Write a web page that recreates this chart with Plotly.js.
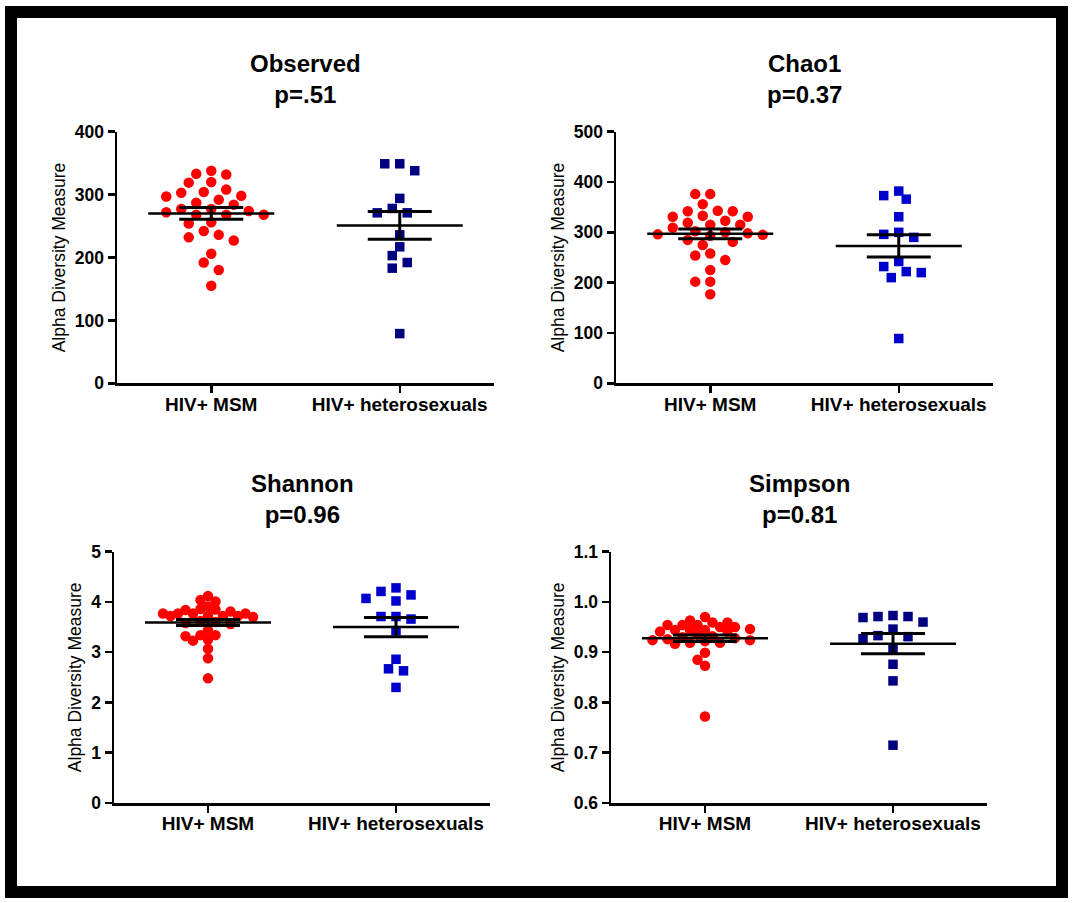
<!DOCTYPE html>
<html>
<head>
<meta charset="utf-8">
<script src="https://cdn.plot.ly/plotly-3.0.1.min.js"></script>
<style>
html,body{margin:0;padding:0;background:#fff;}
#chart{width:1072px;height:903px;}
</style>
</head>
<body>
<div id="chart"></div>
<script>
// ---------------- DATA ----------------
const categories = ['HIV+ MSM', 'HIV+ heterosexuals'];
const panelTitles = ['Observed', 'Chao1', 'Shannon', 'Simpson'];
const pValues = ['p=.51', 'p=0.37', 'p=0.96', 'p=0.81'];
const yAxisTitle = 'Alpha Diversity Measure';

const observedMSM = [338, 333, 332, 320, 319, 303, 308, 304, 297, 298, 292, 287, 284, 277, 277, 268, 268, 254, 256, 242, 227, 236, 232, 206, 192, 180, 155, 268, 272, 274];
const observedHetero = [349, 349, 338, 294, 278, 271, 271, 236, 217, 203, 192, 183, 79];
const observedMean = [270, 251];
const observedSEM = [9.3, 22];

const chao1MSM = [376, 376, 356, 342, 342, 343, 333, 331, 331, 323, 319, 315, 315, 309, 296, 295, 285, 281, 275, 258, 254, 245, 225, 202, 202, 177, 300, 298, 302, 293];
const chao1Hetero = [382, 373, 366, 331, 300, 296, 290, 242, 232, 222, 220, 210, 89];
const chao1Mean = [297, 273];
const chao1SEM = [9.5, 22];

const shannonMSM = [4.12, 4.04, 4.01, 3.91, 3.85, 3.86, 3.81, 3.84, 3.72, 3.77, 3.77, 3.77, 3.77, 3.72, 3.72, 3.72, 3.70, 3.44, 3.34, 3.32, 3.34, 3.23, 3.25, 3.07, 2.88, 2.48, 3.62, 3.58, 3.60, 3.56];
const shannonHetero = [4.28, 4.21, 4.14, 4.07, 4.02, 3.71, 3.71, 3.66, 3.43, 2.86, 2.67, 2.63, 2.30];
const shannonMean = [3.59, 3.50];
const shannonSEM = [0.06, 0.19];

const simpsonMSM = [0.970, 0.959, 0.963, 0.959, 0.954, 0.954, 0.954, 0.946, 0.944, 0.950, 0.950, 0.944, 0.944, 0.941, 0.941, 0.924, 0.919, 0.917, 0.919, 0.922, 0.924, 0.899, 0.885, 0.873, 0.772, 0.932, 0.928, 0.930, 0.935, 0.926];
const simpsonHetero = [0.971, 0.969, 0.973, 0.971, 0.960, 0.946, 0.933, 0.927, 0.931, 0.908, 0.876, 0.843, 0.715];
const simpsonMean = [0.928, 0.917];
const simpsonSEM = [0.0065, 0.020];

const yRanges = [[0, 400], [0, 500], [0, 5], [0.6, 1.1]];
const yDticks = [100, 100, 1, 0.1];

// ---------------- LAYOUT GEOMETRY (pixels) ----------------
const W = 1072, H = 903;
const FONT = 'Liberation Sans, Arial, sans-serif';
// plot boxes: [left, right, top, bottom] in px
const boxes = [
  [117, 494, 131.7, 383.3],
  [616, 993, 131.7, 383.3],
  [114, 490, 551.7, 803],
  [611, 987, 551.7, 803]
];
const heteroBlue = ['#000080', '#0000cc', '#0000cc', '#000080'];
const swarmGap = [11, 11, 7.8, 8.6];   // min px distance between point centres per panel

const panels = [
  [observedMSM, observedHetero, observedMean, observedSEM],
  [chao1MSM, chao1Hetero, chao1Mean, chao1SEM],
  [shannonMSM, shannonHetero, shannonMean, shannonSEM],
  [simpsonMSM, simpsonHetero, simpsonMean, simpsonSEM]
];

// simple beeswarm: horizontal offsets on a 7.5 px grid, avoiding close overlap
function swarm(vals, center, yr, plotH, pxPerUnitX, minDist) {
  const step = 7.5;
  const scale = plotH / (yr[1] - yr[0]);
  const order = vals.map((v, i) => i).sort((a, b) => vals[b] - vals[a]);
  const placed = [];
  const xs = new Array(vals.length);
  for (const idx of order) {
    const y = vals[idx] * scale;
    for (let j = 0; j < 80; j++) {
      const k = j === 0 ? 0 : (j % 2 ? -(j + 1) / 2 : j / 2);
      const x = k * step;
      if (!placed.some(p => Math.hypot(p.x - x, p.y - y) < minDist)) {
        placed.push({x, y});
        xs[idx] = center + x / pxPerUnitX;
        break;
      }
    }
  }
  return xs;
}

const traces = [];
const layout = {
  width: W, height: H,
  margin: {l: 0, r: 0, t: 0, b: 0},
  paper_bgcolor: '#fff', plot_bgcolor: '#fff',
  showlegend: false, hovermode: false,
  annotations: [], shapes: []
};

panels.forEach((p, i) => {
  const [msm, het, means, sems] = p;
  const b = boxes[i];
  const n = i === 0 ? '' : String(i + 1);
  const xa = 'x' + n, ya = 'y' + n;
  const plotW = b[1] - b[0], plotH = b[3] - b[2];
  const pxPerUnitX = plotW / 2;
  const yr = yRanges[i];

  traces.push({
    type: 'scatter', mode: 'markers', xaxis: xa, yaxis: ya,
    x: swarm(msm, 0, yr, plotH, pxPerUnitX, swarmGap[i]), y: msm,
    marker: {symbol: 'circle', size: 10.5, color: '#ff0000'},
    cliponaxis: false
  });
  traces.push({
    type: 'scatter', mode: 'markers', xaxis: xa, yaxis: ya,
    x: swarm(het, 1, yr, plotH, pxPerUnitX, 11), y: het,
    marker: {symbol: 'square', size: 9.5, color: heteroBlue[i]},
    cliponaxis: false
  });
  // mean lines
  const halfMean = 63 / pxPerUnitX;
  [0, 1].forEach(c => {
    traces.push({
      type: 'scatter', mode: 'lines', xaxis: xa, yaxis: ya,
      x: [c - halfMean, c + halfMean], y: [means[c], means[c]],
      line: {color: '#000', width: 2.5}
    });
  });
  // SEM error bars
  traces.push({
    type: 'scatter', mode: 'markers', xaxis: xa, yaxis: ya,
    x: [0, 1], y: means,
    marker: {size: 1, color: 'rgba(0,0,0,0)'},
    error_y: {type: 'data', array: sems, visible: true, color: '#000', thickness: 3, width: 32}
  });

  layout['xaxis' + n] = {
    domain: [b[0] / W, b[1] / W], anchor: ya,
    range: [-0.5, 1.5], tickvals: [0, 1], ticktext: categories,
    showgrid: false, zeroline: false, showline: true, linecolor: '#000', linewidth: 2.5,
    ticks: 'outside', ticklen: 7, tickwidth: 2.5, tickcolor: '#000',
    ticklabelstandoff: -5,
    tickfont: {family: FONT, size: 19, color: '#000', weight: 'bold'},
    fixedrange: true
  };
  layout['yaxis' + n] = {
    domain: [1 - b[3] / H, 1 - b[2] / H], anchor: xa,
    range: yr, dtick: yDticks[i], tick0: yr[0],
    tickformat: i === 3 ? '.1f' : 'd',
    showgrid: false, zeroline: false, showline: true, linecolor: '#000', linewidth: 2.5,
    ticks: 'outside', ticklen: 7, tickwidth: 2.5, tickcolor: '#000',
    tickfont: {family: FONT, size: 17.5, color: '#000', weight: 'bold'},
    title: {text: yAxisTitle, font: {family: FONT, size: 17.5, color: '#000'}, standoff: 5},
    fixedrange: true
  };
  layout.annotations.push({
    xref: 'paper', yref: 'paper',
    x: (b[0] + b[1]) / 2 / W, y: 1 - (b[2] - 22) / H,
    xanchor: 'center', yanchor: 'bottom', showarrow: false,
    text: '<b>' + panelTitles[i] + '</b><br><b>' + pValues[i] + '</b>',
    font: {family: FONT, size: 24, color: '#000'}
  });
});

// outer frame
layout.shapes.push({
  type: 'rect', xref: 'paper', yref: 'paper',
  x0: 11 / W, x1: 1062 / W, y0: 1 - 892 / H, y1: 1 - 12 / H,
  line: {color: '#000', width: 12}, fillcolor: 'rgba(0,0,0,0)', layer: 'above'
});

Plotly.newPlot('chart', traces, layout, {displayModeBar: false, staticPlot: true});
</script>
</body>
</html>
